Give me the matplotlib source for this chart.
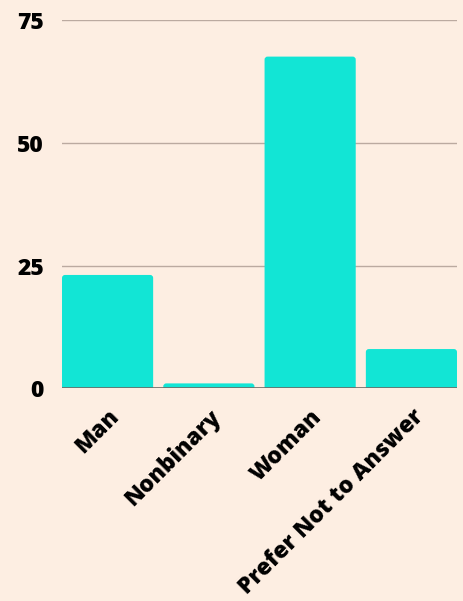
import matplotlib
matplotlib.use("Agg")
import matplotlib.pyplot as plt
from matplotlib.patches import FancyBboxPatch

categories = ["Man", "Nonbinary", "Woman", "Prefer Not to Answer"]
values = [23.1, 1.0, 67.6, 8.0]
yticks = [0, 25, 50, 75]

BG = "#FDEEE2"
BAR = "#12E5D5"

plt.rcParams['font.family'] = ['Open Sans', 'DejaVu Sans']
fig = plt.figure(figsize=(4.63, 6.01), dpi=100, facecolor=BG)
ax = fig.add_axes([62/463, 1-388.3/601, 395/463, 368/601])
ax.set_facecolor(BG)

x = list(range(len(categories)))
W = 0.9
bars = ax.bar(x, values, width=W, color=BAR, zorder=2)
ax.set_xlim(-W/2, len(categories) - 1 + W/2)
ax.set_ylim(0, 75)

# rounded top corners
px_x = 101.0
px_y = 368 / 75.0
r = 3.0 / px_x
aspect = (1 / px_y) / (1 / px_x)
for b in bars:
    bx, bw, bh = b.get_x(), b.get_width(), b.get_height()
    b.set_visible(False)
    off = r * aspect
    p = FancyBboxPatch((bx, -off), bw, bh + off,
                       boxstyle=f"round,pad=0,rounding_size={r}",
                       mutation_aspect=aspect, facecolor=BAR, edgecolor='none',
                       zorder=2, clip_on=True)
    ax.add_patch(p)

for t in yticks[1:]:
    ax.axhline(t, color="#BBAAA0", linewidth=1.0, zorder=1)
ax.axhline(0, color="#6E6A66", linewidth=1.2, zorder=3)

for s in ax.spines.values():
    s.set_visible(False)

ax.set_yticks(yticks)
ax.set_yticklabels([str(t) for t in yticks], fontsize=16.5, fontweight=800)
ax.tick_params(axis='y', length=0, pad=13)
ax.set_xticks(x)
ax.set_xticklabels(categories, rotation=45, ha='right', rotation_mode='anchor',
                   fontsize=16.5, fontweight=800)
ax.tick_params(axis='x', length=0, pad=12)

fig.savefig("out.png", dpi=100, facecolor=BG)
